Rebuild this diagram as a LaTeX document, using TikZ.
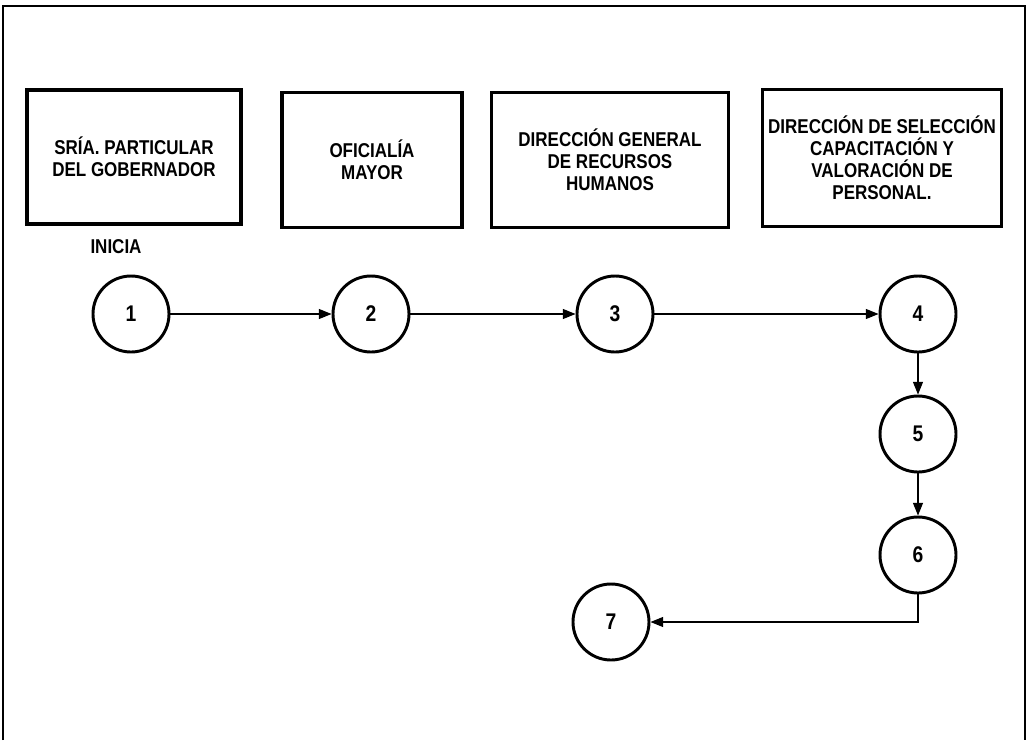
\documentclass[tikz,border=0pt]{standalone}
\usepackage{fontspec}
\setmainfont{Liberation Sans}[FakeStretch=0.85]
\usetikzlibrary{arrows.meta,positioning}

\begin{document}
\begin{tikzpicture}[
    x=0.75pt, y=-0.75pt,
    area/.style={draw, line width=2.4pt, align=center, inner sep=2pt,
      font=\bfseries\fontsize{15}{16.5}\selectfont},
    paso/.style={draw, circle, line width=2.2pt, minimum size=57pt, inner sep=0pt,
      font=\bfseries\fontsize{17}{18}\selectfont},
    arr/.style={-{Triangle[length=9.5pt, width=7.5pt]}, line width=0.8pt},
  ]
  \useasboundingbox (0,0) rectangle (1029,740);
  \draw[line width=1pt] (3,740) -- (3,6) -- (1025,6) -- (1025,740);

  \node[area, minimum width=160.5pt, minimum height=100.5pt] (sria) at (134,157) {SRÍA. PARTICULAR\\DEL GOBERNADOR};
  \node[area, minimum width=135pt, minimum height=101pt] (ofic) at (372,160) {OFICIALÍA\\MAYOR};
  \node[area, minimum width=178pt, minimum height=101pt] (dgrh) at (610,160) {DIRECCIÓN GENERAL\\DE RECURSOS\\HUMANOS};
  \node[area, minimum width=179pt, minimum height=103pt] (dscv) at (882,158) {DIRECCIÓN DE SELECCIÓN\\CAPACITACIÓN Y\\VALORACIÓN DE\\PERSONAL.};

  \node[font=\bfseries\fontsize{15}{16}\selectfont] (inicia) at (116,247) {INICIA};

  \node[paso] (p1) at (131,314) {1};
  \node[paso] (p2) at (371,314) {2};
  \node[paso] (p3) at (615,314) {3};
  \node[paso] (p4) at (918,314) {4};
  \node[paso] (p5) at (918,434) {5};
  \node[paso] (p6) at (918,555) {6};
  \node[paso] (p7) at (611,622) {7};
  \coordinate (esq) at (p6 |- p7);

  \draw[arr] (p1) -- (p2);
  \draw[arr] (p2) -- (p3);
  \draw[arr] (p3) -- (p4);
  \draw[arr] (p4) -- (p5);
  \draw[arr] (p5) -- (p6);
  \draw[arr] (p6.south) -- (esq) -- (p7);
\end{tikzpicture}
\end{document}
